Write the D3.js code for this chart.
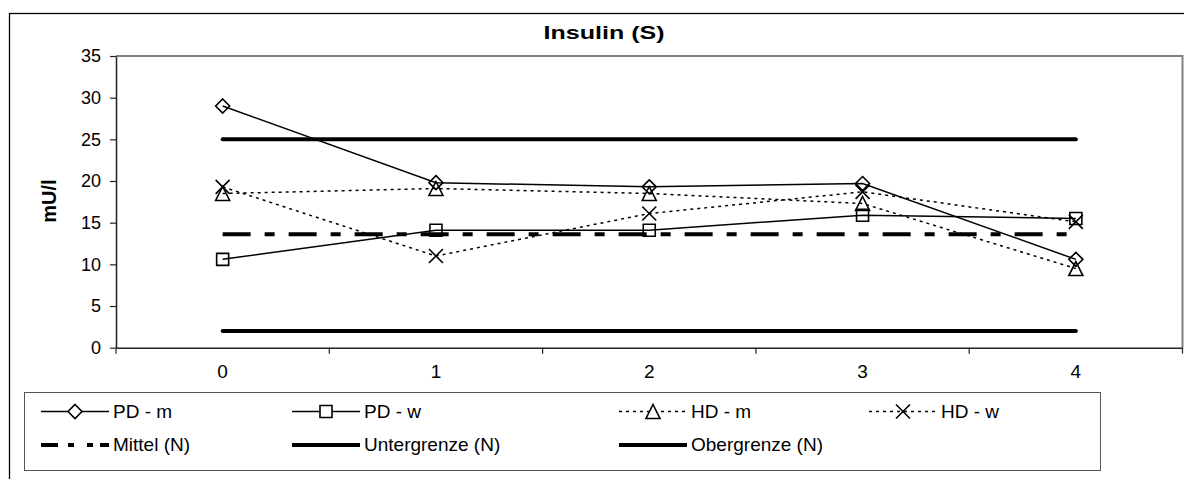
<!DOCTYPE html>
<html>
<head>
<meta charset="utf-8">
<script src="https://cdn.jsdelivr.net/npm/d3@7/dist/d3.min.js"></script>
<style>
  body { margin: 0; background: #fff; }
  svg { display: block; font-family: "Liberation Sans", Arial, sans-serif; }
</style>
</head>
<body>
<div id="viz-container"></div>
<script>
// data
let categories = ["0", "1", "2", "3", "4"];
let pdM = [29.0, 19.8, 19.3, 19.7, 10.6];
let pdW = [10.6, 14.1, 14.1, 15.9, 15.5];
let hdM = [18.5, 19.1, 18.5, 17.3, 9.5];
let hdW = [19.3, 11.0, 16.1, 18.7, 15.1];
let mittel = [13.6, 13.6, 13.6, 13.6, 13.6];
let untergrenze = [2, 2, 2, 2, 2];
let obergrenze = [25, 25, 25, 25, 25];
let yTicks = [0, 5, 10, 15, 20, 25, 30, 35];

let series = [
  {name: "PD - m", values: pdM, marker: "diamond", style: "solid"},
  {name: "PD - w", values: pdW, marker: "square", style: "solid"},
  {name: "HD - m", values: hdM, marker: "triangle", style: "dotted"},
  {name: "HD - w", values: hdW, marker: "cross", style: "dotted"},
  {name: "Mittel (N)", values: mittel, marker: null, style: "dashdot"},
  {name: "Untergrenze (N)", values: untergrenze, marker: null, style: "thick"},
  {name: "Obergrenze (N)", values: obergrenze, marker: null, style: "thick"}
];

let W = 1184, H = 479;
let plot = {left: 116, top: 56, right: 1182.5, bottom: 347.7};

let viz = d3.select("#viz-container")
  .append("svg")
    .attr("width", W)
    .attr("height", H);

// outer chart frame (runs off the picture on right and bottom)
viz.append("rect")
  .attr("x", 9.5).attr("y", 13.5)
  .attr("width", 1200).attr("height", 500)
  .attr("fill", "#fff")
  .attr("stroke", "#000")
  .attr("stroke-width", 1.3);

let x = d3.scaleBand().domain(categories).range([plot.left, plot.right]).padding(0);
let y = d3.scaleLinear().domain([0, 35]).range([plot.bottom, plot.top]);
let cx = d => x(d) + x.bandwidth() / 2;

// plot area border top/right
viz.append("path")
  .attr("d", "M" + plot.left + "," + plot.top + "H" + plot.right + "V" + plot.bottom)
  .attr("fill", "none")
  .attr("stroke", "#808080")
  .attr("stroke-width", 2);

// y axis
let yAxis = viz.append("g")
  .attr("transform", "translate(" + plot.left + ",0)")
  .call(d3.axisLeft(y).tickValues(yTicks).tickSize(6).tickPadding(9).tickSizeOuter(0));
yAxis.select(".domain").attr("stroke", "#222").attr("stroke-width", 1.5);
yAxis.selectAll(".tick line").attr("stroke", "#222").attr("stroke-width", 1.2);
yAxis.selectAll(".tick text")
  .attr("font-size", 18)
  .attr("font-family", "Liberation Sans, Arial, sans-serif")
  .attr("fill", "#000");

// x axis: labels in the middle, ticks on category borders
let xAxis = viz.append("g")
  .attr("transform", "translate(0," + plot.bottom + ")")
  .call(d3.axisBottom(x).tickSize(0).tickPadding(17).tickSizeOuter(0));
xAxis.select(".domain").attr("stroke", "#222").attr("stroke-width", 1.5);
xAxis.selectAll(".tick text")
  .attr("font-size", 19)
  .attr("font-family", "Liberation Sans, Arial, sans-serif")
  .attr("fill", "#000");

let borders = categories.map(d => x(d)).concat([plot.right]);
viz.selectAll(".xborder").data(borders).enter()
  .append("line")
    .attr("class", "xborder")
    .attr("x1", d => d).attr("x2", d => d)
    .attr("y1", plot.bottom).attr("y2", plot.bottom + 6)
    .attr("stroke", "#222")
    .attr("stroke-width", 1.2);

// title + y label
viz.append("text")
  .text("Insulin (S)")
  .attr("x", 604).attr("y", 39)
  .attr("text-anchor", "middle")
  .attr("font-size", 19)
  .attr("font-weight", "bold")
  .attr("textLength", 121)
  .attr("lengthAdjust", "spacingAndGlyphs");

viz.append("text")
  .text("mU/l")
  .attr("transform", "translate(56,201) rotate(-90)")
  .attr("text-anchor", "middle")
  .attr("font-size", 20)
  .attr("font-weight", "bold");

function dashOf(style) {
  if (style == "dotted") return "3,4";
  if (style == "dashdot") return "28,14,10,14";
  return null;
}
function widthOf(style) {
  if (style == "dashdot" || style == "thick") return 4;
  return 1.5;
}

function markerPath(type, s) {
  if (type == "diamond") return "M0," + (-s) + "L" + s + ",0L0," + s + "L" + (-s) + ",0Z";
  if (type == "square") return "M" + (-s + 1) + "," + (-s + 1) + "H" + (s - 1) + "V" + (s - 1) + "H" + (-s + 1) + "Z";
  if (type == "triangle") return "M0," + (-s) + "L" + s + "," + s + "H" + (-s) + "Z";
  if (type == "cross") return "M" + (-s) + "," + (-s) + "L" + s + "," + s + "M" + s + "," + (-s) + "L" + (-s) + "," + s;
  return "";
}

let line = d3.line()
  .x((v, i) => cx(categories[i]))
  .y(v => y(v));

// draw reference lines first, then the data series
let order = [6, 5, 4, 0, 1, 2, 3];
order.forEach(function(k) {
  let s = series[k];
  viz.append("path")
    .datum(s.values)
    .attr("d", line)
    .attr("fill", "none")
    .attr("stroke", "#000")
    .attr("stroke-width", widthOf(s.style))
    .attr("stroke-dasharray", dashOf(s.style))
    .attr("stroke-linecap", s.style == "thick" ? "round" : "butt");
});

[0, 1, 2, 3].forEach(function(k) {
  let s = series[k];
  viz.selectAll(".m" + k).data(s.values).enter()
    .append("path")
      .attr("class", "m" + k)
      .attr("transform", (v, i) => "translate(" + cx(categories[i]) + "," + y(v) + ")")
      .attr("d", markerPath(s.marker, 7))
      .attr("fill", "none")
      .attr("stroke", "#000")
      .attr("stroke-width", 1.6);
});

// legend
let legendBox = {x: 24, y: 392, w: 1076, h: 78};
viz.append("rect")
  .attr("x", legendBox.x + 0.5).attr("y", legendBox.y + 0.5)
  .attr("width", legendBox.w).attr("height", legendBox.h)
  .attr("fill", "#fff")
  .attr("stroke", "#555")
  .attr("stroke-width", 1);

let colX = [41, 292, 619, 869];
let rowY = [411.5, 445];
let legendPos = [[0, 0], [1, 0], [2, 0], [3, 0], [0, 1], [1, 1], [2, 1]];

series.forEach(function(s, k) {
  let lx = colX[legendPos[k][0]];
  let ly = rowY[legendPos[k][1]];
  let g = viz.append("g").attr("transform", "translate(" + lx + "," + ly + ")");
  g.append("line")
    .attr("x1", 0).attr("x2", 68)
    .attr("y1", 0).attr("y2", 0)
    .attr("stroke", "#000")
    .attr("stroke-width", s.style == "solid" ? 1.3 : widthOf(s.style))
    .attr("stroke-dasharray", s.style == "dashdot" ? "17,10,6,13,6,7,17" : dashOf(s.style));
  if (s.marker) {
    g.append("path")
      .attr("transform", "translate(34,0)")
      .attr("d", markerPath(s.marker, 7))
      .attr("fill", "#fff")
      .attr("stroke", "#000")
      .attr("stroke-width", 1.6);
  }
  g.append("text")
    .text(s.name)
    .attr("x", 72).attr("y", 6)
    .attr("font-size", 19);
});
</script>
</body>
</html>
